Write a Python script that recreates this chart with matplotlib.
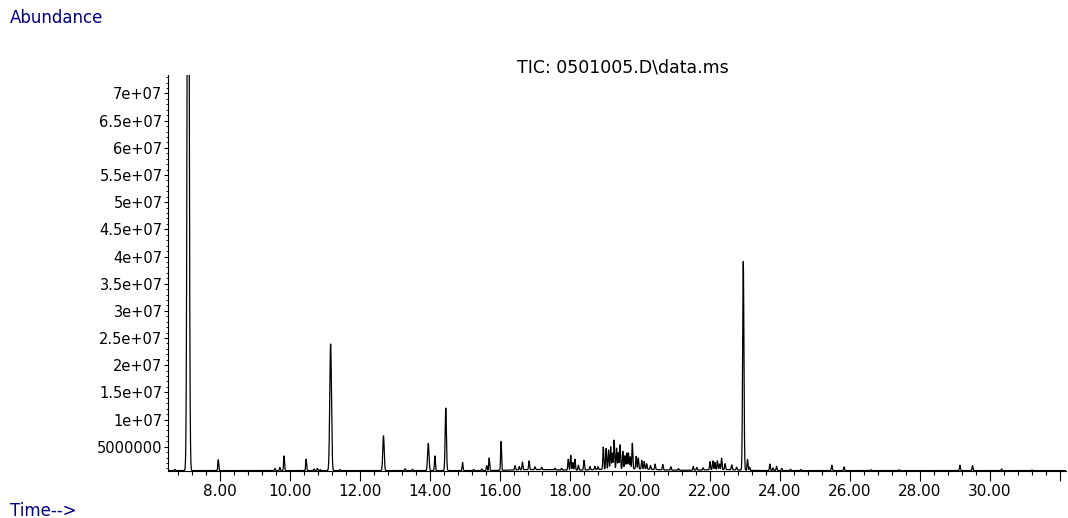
import numpy as np
import matplotlib
matplotlib.use('Agg')
from matplotlib import pyplot as plt
from matplotlib.ticker import MultipleLocator, FixedLocator, FuncFormatter

# retention time (min) and apex abundance
peak_rt = [6.71, 7.09, 7.95, 9.57, 9.71, 9.83, 10.46, 10.69, 10.78, 10.86,
           11.16, 11.43, 12.67, 13.29, 13.50, 13.95, 14.14, 14.45, 14.93, 15.25,
           15.48, 15.62, 15.69, 16.03, 16.43, 16.55, 16.64, 16.83, 17.00, 17.19,
           17.57, 17.76, 17.95, 18.02, 18.08, 18.14, 18.24, 18.40, 18.57, 18.71,
           18.80, 18.95, 19.03, 19.10, 19.16, 19.21, 19.26, 19.33, 19.38, 19.43,
           19.51, 19.57, 19.62, 19.67, 19.72, 19.78, 19.89, 19.95, 20.05, 20.12,
           20.19, 20.30, 20.43, 20.65, 20.88, 21.10, 21.52, 21.62, 21.80, 22.00,
           22.08, 22.14, 22.21, 22.27, 22.33, 22.43, 22.62, 22.76, 22.95, 23.07,
           23.13, 23.71, 23.80, 23.90, 24.05, 24.30, 24.60, 25.48, 25.83, 26.60,
           27.40, 29.14, 29.50, 30.33, 31.20]
peak_abund = [0.8e6, 150e6, 2.6e6, 1.0e6, 1.2e6, 3.3e6, 2.7e6, 0.9e6, 1.0e6, 0.8e6,
              23.9e6, 0.8e6, 7.0e6, 0.95e6, 0.85e6, 5.6e6, 3.3e6, 12.1e6, 2.1e6, 0.8e6,
              0.9e6, 1.5e6, 2.9e6, 5.9e6, 1.4e6, 1.2e6, 2.0e6, 2.2e6, 1.1e6, 1.0e6,
              0.9e6, 0.9e6, 2.6e6, 3.3e6, 2.0e6, 2.6e6, 1.5e6, 2.4e6, 1.2e6, 1.2e6,
              1.1e6, 4.7e6, 4.4e6, 4.1e6, 4.7e6, 3.5e6, 5.9e6, 4.4e6, 3.6e6, 5.0e6,
              3.8e6, 3.0e6, 3.5e6, 3.5e6, 2.8e6, 5.3e6, 2.9e6, 2.6e6, 2.2e6, 2.0e6,
              1.6e6, 1.3e6, 1.6e6, 1.6e6, 1.2e6, 0.9e6, 1.3e6, 1.1e6, 1.0e6, 2.1e6,
              2.2e6, 1.9e6, 2.2e6, 1.6e6, 2.7e6, 1.7e6, 1.5e6, 1.1e6, 39.0e6, 2.6e6,
              1.2e6, 1.8e6, 1.1e6, 1.4e6, 1.0e6, 0.85e6, 0.8e6, 1.6e6, 1.3e6, 0.75e6,
              0.75e6, 1.6e6, 1.5e6, 0.9e6, 0.7e6]
# broader peaks
wide_rt = [7.09, 11.16, 12.67, 13.95, 14.45, 22.95]
wide_sigma = [0.026, 0.024, 0.02, 0.02, 0.018, 0.018]
# slow baseline rise under the 16-23 min region
hump_rt = [17.0, 19.6, 22.3]
hump_abund = [0.2e6, 0.35e6, 0.2e6]
hump_sigma = [0.6, 0.8, 0.5]
baseline = 0.6e6

t = np.arange(6.52, 32.17, 0.002)
y = np.full_like(t, baseline)
for rt, h in zip(peak_rt, peak_abund):
    s = 0.013
    if rt in wide_rt:
        s = wide_sigma[wide_rt.index(rt)]
    y += (h - baseline) * np.exp(-0.5 * ((t - rt) / s) ** 2)
for rt, h, s in zip(hump_rt, hump_abund, hump_sigma):
    y += h * np.exp(-0.5 * ((t - rt) / s) ** 2)

plt.rcParams['font.family'] = 'DejaVu Sans'
fig = plt.figure(figsize=(10.68, 5.18), dpi=100)
ax = fig.add_axes([168/1068, 47/518, 898/1068, 396/518])
ax.plot(t, y, color='black', lw=0.9)

ax.set_xlim(6.514, 32.17)
ax.set_ylim(0.53e6, 73.4e6)
for side in ['top', 'right']:
    ax.spines[side].set_visible(False)
ax.spines['left'].set_linewidth(0.8)
ax.spines['bottom'].set_linewidth(0.8)

ax.xaxis.set_major_locator(FixedLocator(np.arange(8, 33, 2)))
ax.xaxis.set_minor_locator(MultipleLocator(0.4))
ax.xaxis.set_major_formatter(FuncFormatter(lambda v, p: '' if v > 31 else '%.2f' % v))
ax.yaxis.set_major_locator(FixedLocator(np.arange(5e6, 7.1e7, 5e6)))
ax.yaxis.set_minor_locator(MultipleLocator(1e6))

def ylab(v, p):
    if v < 9e6:
        return '%d' % v
    s = '%g' % (v / 1e7)
    return s + 'e+07'
ax.yaxis.set_major_formatter(FuncFormatter(ylab))

ax.tick_params(axis='x', which='major', length=7, width=0.8, pad=2, labelsize=11)
ax.tick_params(axis='x', which='minor', length=3, width=0.8)
ax.tick_params(axis='y', which='major', length=3, width=0.8, pad=1, labelsize=10.5)
ax.tick_params(axis='y', which='minor', length=1.5, width=0.6)

fig.text(0.583, 1 - 67/518, 'TIC: 0501005.D\\data.ms', ha='center', va='center', fontsize=12.5)
fig.text(10/1068, 1 - 18/518, 'Abundance', ha='left', va='center', fontsize=12, color='#000080')
fig.text(10/1068, 1 - 511/518, 'Time-->', ha='left', va='center', fontsize=12, color='#000080')

fig.savefig('out.png', dpi=100)
